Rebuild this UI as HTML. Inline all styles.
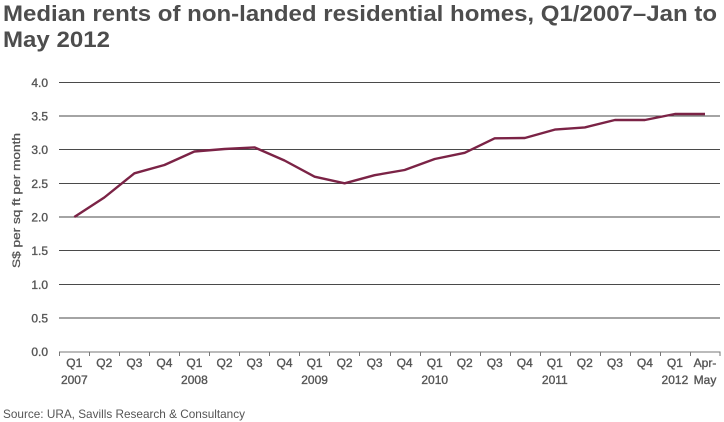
<!DOCTYPE html>
<html><head><meta charset="utf-8"><style>
html,body{margin:0;padding:0;background:#fff;}
svg{display:block;font-family:"Liberation Sans",Arial,sans-serif;}
</style></head><body>
<svg width="724" height="422" viewBox="0 0 724 422" xmlns="http://www.w3.org/2000/svg">
<rect width="724" height="422" fill="#fff"/>
<text x="3" y="21" font-size="22" font-weight="bold" fill="#4d4d4d" textLength="714" lengthAdjust="spacingAndGlyphs">Median rents of non-landed residential homes, Q1/2007–Jan to</text>
<text x="3" y="47" font-size="22" font-weight="bold" fill="#4d4d4d" textLength="107" lengthAdjust="spacingAndGlyphs">May 2012</text>
<g stroke="#4a4a4a" stroke-width="1">
<line x1="59" y1="82.5" x2="720" y2="82.5"/>
<line x1="59" y1="116" x2="720" y2="116"/>
<line x1="59" y1="149.5" x2="720" y2="149.5"/>
<line x1="59" y1="183.5" x2="720" y2="183.5"/>
<line x1="59" y1="217" x2="720" y2="217"/>
<line x1="59" y1="250.5" x2="720" y2="250.5"/>
<line x1="59" y1="284.5" x2="720" y2="284.5"/>
<line x1="59" y1="318" x2="720" y2="318"/>
</g>
<g stroke="#777" stroke-width="1">
<line x1="59" y1="352" x2="720.5" y2="352"/>
<line x1="59.5" y1="352" x2="59.5" y2="356"/>
<line x1="89.5" y1="352" x2="89.5" y2="356"/>
<line x1="119.5" y1="352" x2="119.5" y2="356"/>
<line x1="149.5" y1="352" x2="149.5" y2="356"/>
<line x1="179.5" y1="352" x2="179.5" y2="356"/>
<line x1="209.5" y1="352" x2="209.5" y2="356"/>
<line x1="239.5" y1="352" x2="239.5" y2="356"/>
<line x1="269.5" y1="352" x2="269.5" y2="356"/>
<line x1="299.5" y1="352" x2="299.5" y2="356"/>
<line x1="329.5" y1="352" x2="329.5" y2="356"/>
<line x1="359.5" y1="352" x2="359.5" y2="356"/>
<line x1="390.5" y1="352" x2="390.5" y2="356"/>
<line x1="420.5" y1="352" x2="420.5" y2="356"/>
<line x1="450.5" y1="352" x2="450.5" y2="356"/>
<line x1="480.5" y1="352" x2="480.5" y2="356"/>
<line x1="510.5" y1="352" x2="510.5" y2="356"/>
<line x1="540.5" y1="352" x2="540.5" y2="356"/>
<line x1="570.5" y1="352" x2="570.5" y2="356"/>
<line x1="600.5" y1="352" x2="600.5" y2="356"/>
<line x1="630.5" y1="352" x2="630.5" y2="356"/>
<line x1="660.5" y1="352" x2="660.5" y2="356"/>
<line x1="690.5" y1="352" x2="690.5" y2="356"/>
<line x1="720" y1="352" x2="720" y2="356"/>
</g>
<g font-size="12" fill="#555" stroke="#555" stroke-width="0.35" text-anchor="end">
<text x="48" y="87">4.0</text>
<text x="48" y="120.5">3.5</text>
<text x="48" y="154">3.0</text>
<text x="48" y="188">2.5</text>
<text x="48" y="221.5">2.0</text>
<text x="48" y="255">1.5</text>
<text x="48" y="289">1.0</text>
<text x="48" y="322.5">0.5</text>
<text x="48" y="356">0.0</text>
</g>
<text transform="translate(20,200.5) rotate(-90)" font-size="11" fill="#555" stroke="#555" stroke-width="0.3" text-anchor="middle" textLength="135" lengthAdjust="spacingAndGlyphs">S$ per sq ft per month</text>
<g font-size="12" fill="#555" stroke="#555" stroke-width="0.35" text-anchor="middle">
<text x="74.3" y="367">Q1</text>
<text x="104.3" y="367">Q2</text>
<text x="134.4" y="367">Q3</text>
<text x="164.4" y="367">Q4</text>
<text x="194.4" y="367">Q1</text>
<text x="224.5" y="367">Q2</text>
<text x="254.5" y="367">Q3</text>
<text x="284.5" y="367">Q4</text>
<text x="314.6" y="367">Q1</text>
<text x="344.6" y="367">Q2</text>
<text x="374.6" y="367">Q3</text>
<text x="404.6" y="367">Q4</text>
<text x="434.7" y="367">Q1</text>
<text x="464.7" y="367">Q2</text>
<text x="494.7" y="367">Q3</text>
<text x="524.8" y="367">Q4</text>
<text x="554.8" y="367">Q1</text>
<text x="584.8" y="367">Q2</text>
<text x="614.9" y="367">Q3</text>
<text x="644.9" y="367">Q4</text>
<text x="674.9" y="367">Q1</text>
<text x="705" y="367">Apr-</text>
<text x="74.3" y="384">2007</text>
<text x="194.4" y="384">2008</text>
<text x="314.6" y="384">2009</text>
<text x="434.7" y="384">2010</text>
<text x="554.8" y="384">2011</text>
<text x="674.9" y="384">2012</text>
<text x="705" y="384">May</text>
</g>
<polyline fill="none" stroke="#7b2346" stroke-width="2.4" stroke-linejoin="round" points="74.3,217 104.3,197.5 134.4,173.3 164.4,165 194.4,151.5 224.5,149 254.5,147.4 284.5,160.5 314.6,176.7 344.6,183.3 374.6,175.2 404.6,170 434.7,159 464.7,152.8 494.7,138.3 524.8,138 554.8,129.6 584.8,127.4 614.9,120 644.9,120 674.9,114 705,114"/>
<text x="3" y="418" font-size="12" fill="#555" textLength="242" lengthAdjust="spacingAndGlyphs">Source: URA, Savills Research &amp; Consultancy</text>
</svg>
</body></html>
